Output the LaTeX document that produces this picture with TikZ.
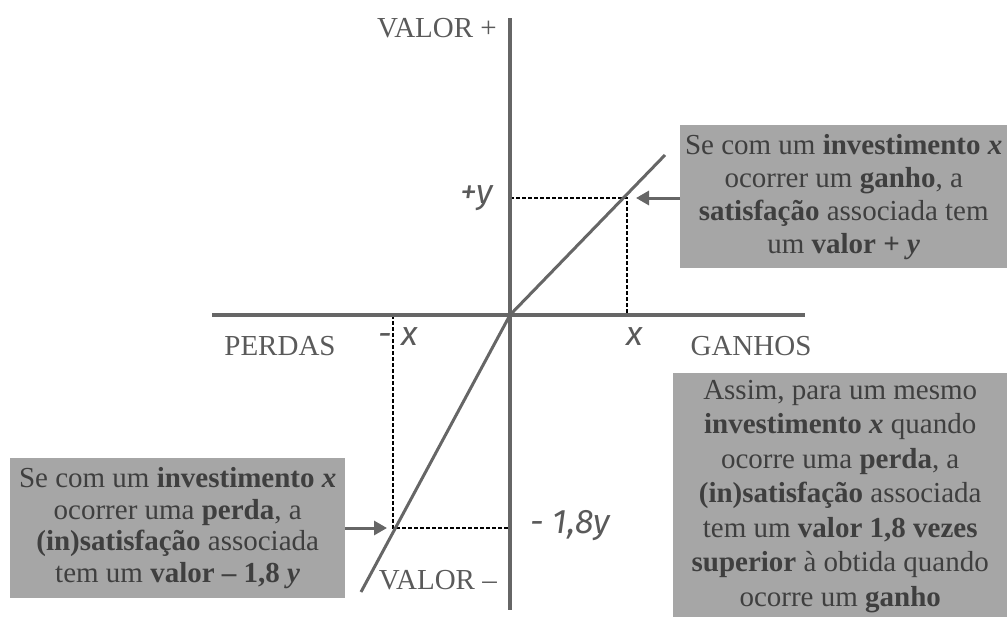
\documentclass[tikz,border=0pt]{standalone}
\usepackage{fontspec}
\setmainfont{Liberation Serif}
\newfontfamily\mathlbl{Fira Sans}
\usetikzlibrary{arrows.meta}
\definecolor{axisgray}{HTML}{666666}
\definecolor{boxgray}{HTML}{A6A6A6}
\definecolor{txtgray}{HTML}{3F3F3F}
\definecolor{lblgray}{HTML}{5A5A5A}
\tikzset{
  axis/.style={draw=axisgray, line width=4.5pt},
  curve/.style={draw=axisgray, line width=3pt},
  guide/.style={draw=black, line width=1.4pt, dash pattern=on 3.5pt off 2.5pt},
  pointer/.style={draw=axisgray, line width=3pt, -{Triangle[length=13pt,width=14pt]}},
  infobox/.style={fill=boxgray, text=txtgray, align=center, inner sep=0pt,
    font=\fontsize{29}{33}\selectfont},
  axlabel/.style={text=lblgray, font=\fontsize{29}{33}\selectfont, inner sep=0pt},
  mlabel/.style={text=lblgray, font=\mathlbl\itshape\fontsize{34}{36}\selectfont, inner sep=0pt}
}
\begin{document}
\begin{tikzpicture}[x=1pt,y=-1pt]
\useasboundingbox (0,0) rectangle (1007,616);
% coordinates
\coordinate (O) at (510,315);
\coordinate (vtop) at (510,18);
\coordinate (vbot) at (510,610);
\coordinate (hleft) at (212,315);
\coordinate (hright) at (805,315);
\coordinate (ctop) at (665,155);
\coordinate (cbot) at (361,592);
\coordinate (P) at (627,198);
\coordinate (Py) at (510,198);
\coordinate (Px) at (627,315);
\coordinate (Q) at (393,528);
\coordinate (Qy) at (510,528);
\coordinate (Qx) at (393,315);
% guides
\draw[guide] (Py) -- (P) -- (Px);
\draw[guide] (Qx) -- (Q) -- (Qy);
% axes
\draw[axis] (vtop) -- (vbot);
\draw[axis] (hleft) -- (hright);
% value line
\draw[curve] (cbot) -- (O) -- (ctop);
% boxes
\node[infobox, minimum width=327pt, minimum height=143pt, anchor=north west] (b1) at (680,125)
  {Se com um \textbf{investimento \textit{x}}\\ ocorrer um \textbf{ganho}, a\\ \textbf{satisfação} associada tem\\ um \textbf{valor + \textit{y}}};
\node[infobox, minimum width=335pt, minimum height=140pt, anchor=north west, font=\fontsize{29}{31.5}\selectfont] (b2) at (10,458)
  {Se com um \textbf{investimento \textit{x}}\\ ocorrer uma \textbf{perda}, a\\ \textbf{(in)satisfação} associada\\ tem um \textbf{valor – 1,8 \textit{y}}};
\node[infobox, minimum width=334pt, minimum height=246pt, anchor=north west, font=\fontsize{29}{34.5}\selectfont] (b3) at (673,373)
  {Assim, para um mesmo\\ \textbf{investimento \textit{x}} quando\\ ocorre uma \textbf{perda}, a\\ \textbf{(in)satisfação} associada\\ tem um \textbf{valor 1,8 vezes}\\ \textbf{superior} à obtida quando\\ ocorre um \textbf{ganho}};
% pointers
\draw[pointer] (b1.west |- P) -- ([xshift=9pt]P);
\draw[pointer] (b2.east |- Q) -- ([xshift=-6pt]Q);
% axis labels
\node[axlabel, anchor=east] (vplus) at (497,28) {VALOR +};
\node[axlabel, anchor=east] (vminus) at (497,580) {VALOR –};
\node[axlabel] (perdas) at (280,346) {PERDAS};
\node[axlabel] (ganhos) at (751,346) {GANHOS};
% variable labels
\node[mlabel] (ly) at (477,198) {+y};
\node[mlabel] (lmx) at (398,337) {-\hspace{10pt}x};
\node[mlabel] (lx) at (635,337) {x};
\node[mlabel, anchor=west] (l18) at (530,526) {- 1,8y};
\end{tikzpicture}
\end{document}
